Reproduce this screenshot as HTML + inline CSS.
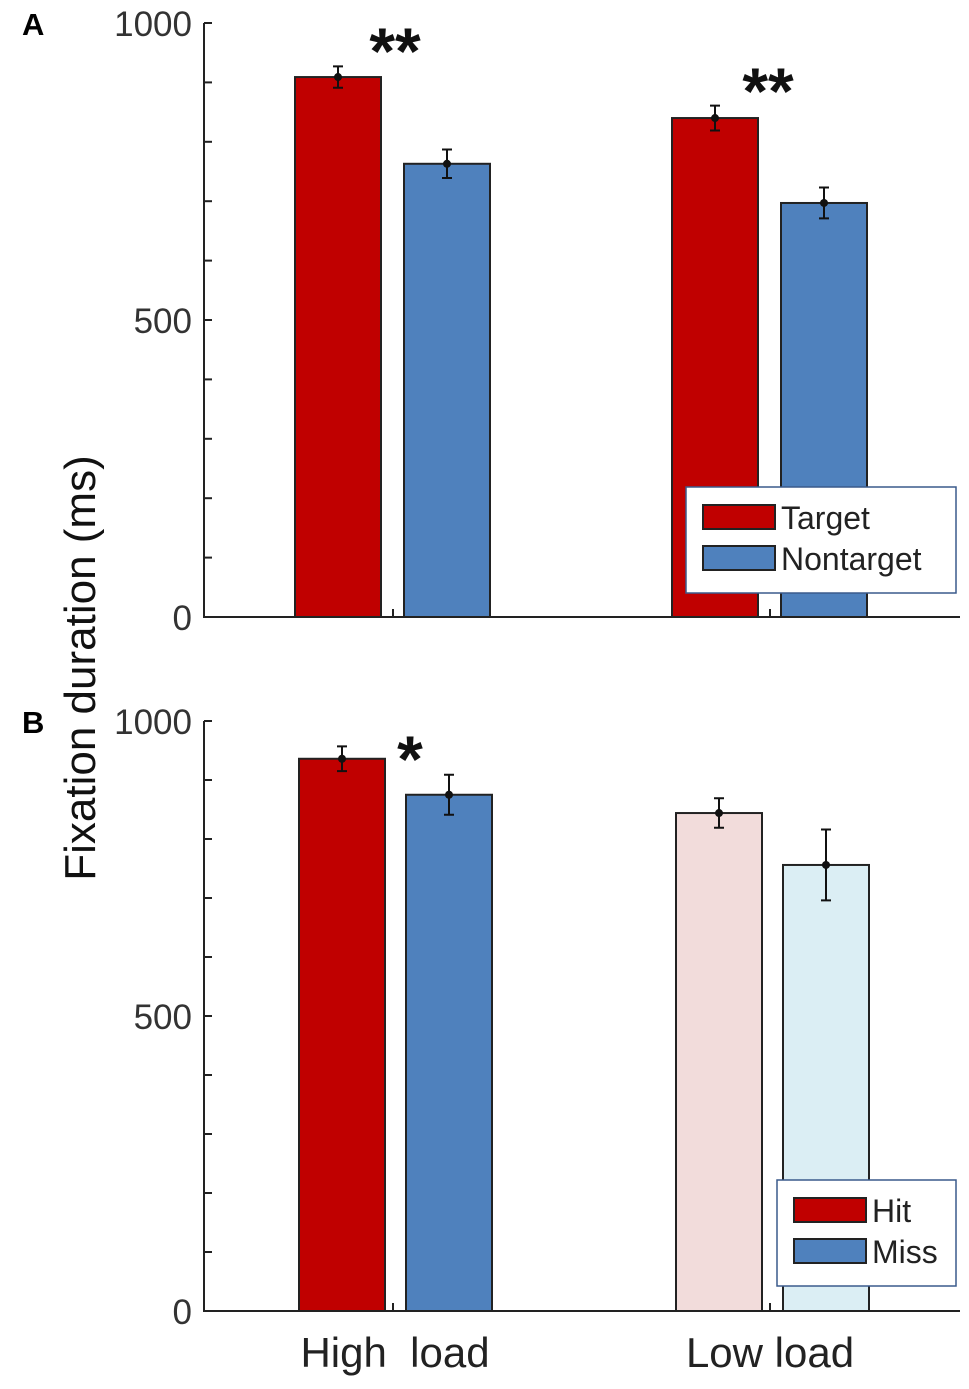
<!DOCTYPE html>
<html><head><meta charset="utf-8"><style>
body{margin:0;background:#fff}
svg text{font-family:"Liberation Sans",Arial,sans-serif}
</style></head><body>
<svg id="c" width="969" height="1384" viewBox="0 0 969 1384" xmlns="http://www.w3.org/2000/svg">
<text x="22" y="35" font-size="31" font-weight="bold">A</text>
<text x="22" y="733" font-size="31" font-weight="bold">B</text>
<text transform="translate(95,668) rotate(-90)" text-anchor="middle" font-size="44" fill="#111">Fixation duration (ms)</text>
<text x="395" y="1367" text-anchor="middle" font-size="42" fill="#222">High&#160;&#160;load</text>
<text x="770" y="1367" text-anchor="middle" font-size="42" fill="#222">Low load</text>
</svg>
<script>
const categories=["High load","Low load"];
const aTarget=[909,840], aTargetErr=[18,21];
const aNontarget=[763,697], aNontargetErr=[24,26];
const bHit=[936,844], bHitErr=[21,25];
const bMiss=[875,756], bMissErr=[34,60];
const yTicks=[0,100,200,300,400,500,600,700,800,900,1000];
const yTickLabels=["0","500","1000"];
const NS="http://www.w3.org/2000/svg";
const svg=document.getElementById('c');
function mk(t,a){const e=document.createElementNS(NS,t);for(const k in a)e.setAttribute(k,a[k]);svg.appendChild(e);return e;}
function panel(p){
  const y=v=>p.y0-(v/1000)*(p.y0-p.y1);
  const ax=mk('path',{d:`M204 ${p.y1} V${p.y0} H960`,stroke:'#222','stroke-width':2,fill:'none'});
  
  
  yTicks.forEach(v=>{const t=mk('line',{x1:204,x2:212,y1:y(v),y2:y(v),stroke:'#222','stroke-width':2});
    
    });
  yTickLabels.forEach(s=>{const t=mk('text',{x:192,y:y(+s)+13,'text-anchor':'end','font-size':35,fill:'#333'});t.textContent=s;
    
    });
  const cx=[393,770];
  categories.forEach((c,i)=>{
    const t=mk('line',{x1:cx[i],x2:cx[i],y1:p.y0,y2:p.y0-8,stroke:'#222','stroke-width':2});
    
    
    [[p.s1,p.e1,p.c1[i],p.o1,'bar-'+p.k1],[p.s2,p.e2,p.c2[i],p.o2,'bar-'+p.k2]].forEach(([s,e,col,off,nm])=>{
      const x=cx[i]+off;
      const r=mk('rect',{x:x,y:y(s[i]),width:86,height:p.y0-y(s[i]),fill:col,stroke:'#222','stroke-width':2});
      
      
      const m=x+43;
      const eb=mk('path',{d:`M${m} ${y(s[i]+e[i])} V${y(s[i]-e[i])} M${m-5} ${y(s[i]+e[i])} H${m+5} M${m-5} ${y(s[i]-e[i])} H${m+5}`,stroke:'#111','stroke-width':2,fill:'none'});
      
      
      const d=mk('circle',{cx:m,cy:y(s[i]),r:4,fill:'#111'});
      
      
    });
  });
  const L=p.leg;
  const g=mk('rect',{x:L.x,y:L.y,width:L.w,height:106,fill:'#fff',stroke:'#3a5a8c','stroke-width':1.5});
  
  
  [[p.k1,'#c00000'],[p.k2,'#4f81bd']].forEach(([lab,col],j)=>{
    const r=mk('rect',{x:L.x+17,y:L.y+18+j*41,width:72,height:24,fill:col,stroke:'#222','stroke-width':2});
    
    
    const t=mk('text',{x:L.x+95,y:L.y+42+j*41,'font-size':32,fill:'#222'});t.textContent=lab;
    
    
  });
  p.stars.forEach(([txt,x,yy])=>{const t=mk('text',{x:x,y:yy,'text-anchor':'middle','font-size':66,'font-weight':'bold',fill:'#111'});t.textContent=txt;
    
    });
}
panel({n:'panel-a',y0:617,y1:23,s1:aTarget,e1:aTargetErr,s2:aNontarget,e2:aNontargetErr,o1:-98,o2:11,
  c1:['#c00000','#c00000'],c2:['#4f81bd','#4f81bd'],k1:'Target',k2:'Nontarget',
  leg:{x:686,y:487,w:270},stars:[['**',395,74],['**',768,114]]});
panel({n:'panel-b',y0:1311,y1:721,s1:bHit,e1:bHitErr,s2:bMiss,e2:bMissErr,o1:-94,o2:13,
  c1:['#c00000','#f2dcdb'],c2:['#4f81bd','#dbeef4'],k1:'Hit',k2:'Miss',
  leg:{x:777,y:1180,w:179},stars:[['*',410,782]]});
</script>
</body></html>
